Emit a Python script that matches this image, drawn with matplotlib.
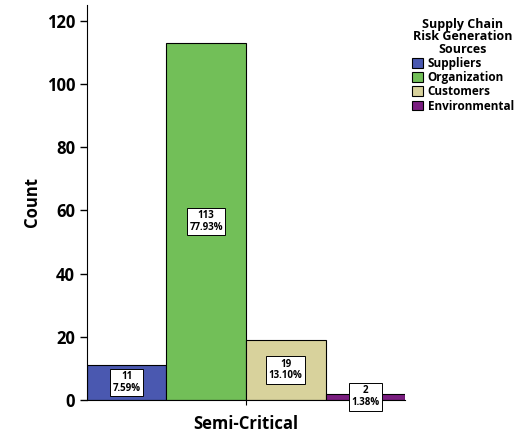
import matplotlib
matplotlib.use("Agg")
import matplotlib.pyplot as plt
import numpy as np

plt.rcParams['font.family'] = ['Open Sans', 'DejaVu Sans']
categories = ["Suppliers", "Organization", "Customers", "Environmental"]
counts = [11, 113, 19, 2]
pcts = ["7.59%", "77.93%", "13.10%", "1.38%"]
colors = ["#4a58b0", "#72bf58", "#d8d29c", "#7a1e80"]
xlabel = "Semi-Critical"

fig = plt.figure(figsize=(5.2, 4.42), dpi=100)
ax = fig.add_axes([0.167, 0.095, 0.612, 0.894])
x = np.arange(len(categories))
ax.bar(x, counts, width=1.0, color=colors, edgecolor="black", linewidth=0.8, label=categories)
for xi, c, p in zip(x, counts, pcts):
    yy = max(c / 2, 1.0)
    ax.text(xi, yy, f"{c}\n{p}", ha="center", va="center", fontsize=7, fontweight="bold",
            linespacing=1.1, bbox=dict(boxstyle="square,pad=0.25", fc="white", ec="black", lw=0.7))
ax.set_xlim(-0.5, 3.5)
ax.set_ylim(0, 125)
ax.set_yticks([0, 20, 40, 60, 80, 100, 120])
ax.tick_params(axis='y', labelsize=12, width=1, length=5)
ax.set_xticks([1.5])
ax.set_xticklabels([""])
ax.set_xlabel(xlabel, fontsize=12, fontweight="bold")
ax.set_ylabel("Count", fontsize=12, fontweight="bold")
for lbl in ax.get_yticklabels():
    lbl.set_fontweight("bold")
ax.spines['top'].set_visible(False)
ax.spines['right'].set_visible(False)
leg = ax.legend(loc="upper left", bbox_to_anchor=(1.0, 0.985), frameon=False,
                title="Supply Chain\nRisk Generation\nSources", fontsize=8.5,
                handlelength=0.9, handleheight=0.9, borderaxespad=0.2, handletextpad=0.4,
                labelspacing=0.1)
leg._legend_box.align = "center"
leg.get_title().set_fontweight("bold")
leg.get_title().set_fontsize(9)
leg.get_title().set_linespacing(0.95)
leg.get_title().set_multialignment("center")
for t in leg.get_texts():
    t.set_fontweight("bold")
fig.savefig("out.png", dpi=100)
